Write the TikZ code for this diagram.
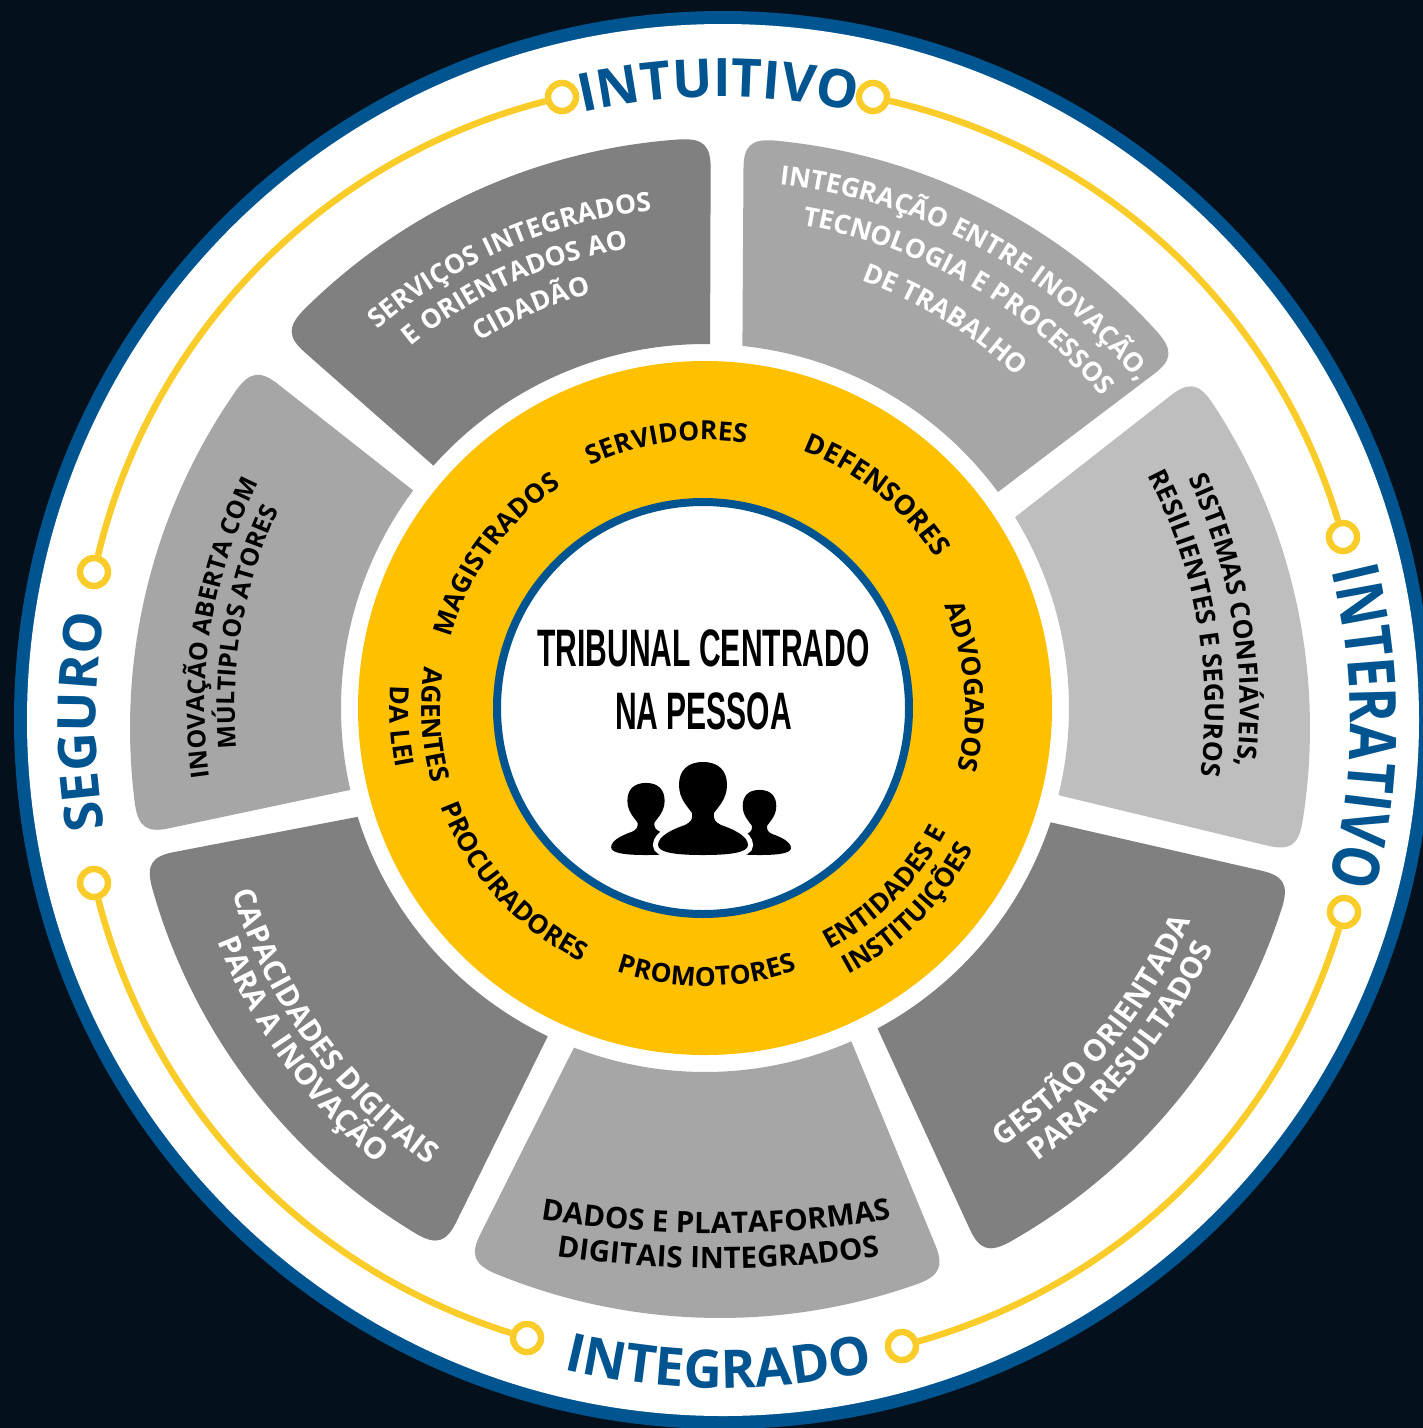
\documentclass[tikz,border=0pt]{standalone}
\usepackage{fontspec}
\setmainfont{Open Sans}
\newfontfamily\narrowfont[FakeStretch=0.81]{Open Sans}
\newfontfamily\titlefont[FakeStretch=0.57]{Liberation Sans}
\usetikzlibrary{calc,decorations.text}

\definecolor{navy}{HTML}{04101B}
\definecolor{ringblue}{HTML}{00548F}
\definecolor{hubyellow}{HTML}{FFC000}
\definecolor{lineyellow}{HTML}{F9CC2A}
\definecolor{darkgray}{HTML}{808080}
\definecolor{midgray}{HTML}{A6A6A6}
\definecolor{lightgray}{HTML}{BEBEBE}

\newcommand{\bigfont}{\color{ringblue}\bfseries\fontsize{30.2}{36}\selectfont}
\newcommand{\bignarrow}{\color{ringblue}\narrowfont\bfseries\fontsize{37}{44}\selectfont}
\newcommand{\hubfont}{\color{black}\bfseries\fontsize{15}{18}\selectfont}
\newcommand{\hubwide}{\color{black}\bfseries\fontsize{15.6}{18}\selectfont}
\newcommand{\whitefont}{\color{white}\bfseries\fontsize{15.1}{18}\selectfont}
\newcommand{\blackfont}{\color{black}\bfseries\fontsize{15}{18}\selectfont}
\newcommand{\whitebig}{\color{white}\bfseries\fontsize{17}{20}\selectfont}
\newcommand{\blackbig}{\color{black}\bfseries\fontsize{16.8}{20}\selectfont}
\newcommand{\blacksmall}{\color{black}\bfseries\fontsize{14.2}{17}\selectfont}

% text on an arc: centre, radius, middle angle, font, text
\newcommand{\cwtext}[5]{\path[decorate,decoration={text along path,text={|#4|#5},text align=center}]
  ($(#1)+(#3-70:#2)$) arc[start angle=#3-70,end angle=#3+70,radius=#2];}
\newcommand{\ccwtext}[5]{\path[decorate,decoration={text along path,text={|#4|#5},text align=center}]
  ($(#1)+(#3+70:#2)$) arc[start angle=#3+70,end angle=#3-70,radius=#2];}

% sector: colour, inner angle a, outer angle a, outer angle b, inner angle b
\newcommand{\sectorshape}[5]{
  \coordinate (ia) at ($(hub)+(#2:364)$);
  \coordinate (oa) at ($(rim)+(#3:590)$);
  \coordinate (ob) at ($(rim)+(#4:590)$);
  \coordinate (ib) at ($(hub)+(#5:364)$);
  \coordinate (a1) at ($(oa)!0.6cm!(ia)$);
  \coordinate (a2) at ($(rim)+(#3+2.9:590)$);
  \coordinate (b1) at ($(rim)+(#4-2.9:590)$);
  \coordinate (b2) at ($(ob)!0.6cm!(ib)$);
  \fill[#1] (ia) -- (a1) .. controls ($(a1)!0.75!(oa)$) and ($(a2)!0.75!(oa)$) .. (a2)
    arc[start angle=#3+2.9,end angle=#4-2.9,radius=590]
    .. controls ($(b1)!0.75!(ob)$) and ($(b2)!0.75!(ob)$) .. (b2) -- (ib)
    arc[start angle=#5,end angle=#2,radius=364] -- cycle;
}

\begin{document}
\begin{tikzpicture}[
  x=0.02cm, y=-0.02cm,
  knob/.style={circle, draw=lineyellow, fill=white, line width=0.13cm, minimum size=0.56cm, inner sep=0pt},
  track/.style={draw=lineyellow, line width=0.13cm, looseness=0.92},
  title/.style={align=center, font=\titlefont\bfseries\fontsize{30}{35.8}\selectfont},
  person/.pic={
    \path[pic actions] (0,-93) .. controls (-16,-93) and (-24,-84) .. (-24,-70)
      .. controls (-24,-56) and (-15,-48) .. (-11,-42)
      .. controls (-10,-36) and (-12,-33) .. (-18,-30)
      .. controls (-30,-26) and (-45,-19) .. (-45,-10)
      .. controls (-45,-2) and (-25,0) .. (0,0)
      .. controls (25,0) and (45,-2) .. (45,-10)
      .. controls (45,-19) and (30,-26) .. (18,-30)
      .. controls (12,-33) and (10,-36) .. (11,-42)
      .. controls (15,-48) and (24,-56) .. (24,-70)
      .. controls (24,-84) and (16,-93) .. (0,-93) -- cycle;
  }
]
\useasboundingbox (0,0) rectangle (1423,1428);
\fill[navy] (0,0) rectangle (1423,1428);

\coordinate (hub) at (705,708);
\coordinate (rim) at (720,728);
\coordinate (band) at (722,722);
\coordinate (integ) at (720,716);
\coordinate (capa) at (732,739);
\coordinate (dados1) at (716,133);
\coordinate (dados2) at (718,168);

% Rings
\fill[ringblue] (723,720) circle[radius=709];
\fill[white] (723,720) circle[radius=696];
\fill[hubyellow] (hub) circle[radius=347];
\draw[ringblue, fill=white, line width=0.16cm] (703,708) circle[radius=206];

% Sectors
\sectorshape{darkgray}{221.75}{222.1}{269.1}{270.8}
\sectorshape{midgray}{275.9}{272.3}{320.9}{323.6}
\sectorshape{lightgray}{328.4}{323.5}{372.2}{373.85}
\sectorshape{darkgray}{18.3}{14.67}{63.6}{61.7}
\sectorshape{midgray}{66.3}{67.4}{115.4}{111.1}
\sectorshape{darkgray}{115.6}{118}{167.3}{162.6}
\sectorshape{midgray}{167}{169.6}{217.9}{216.7}

% Yellow tracks
\node[knob] (k1) at (562,97) {};
\node[knob] (k2) at (873,97) {};
\node[knob] (k3) at (1343,537) {};
\node[knob] (k4) at (1344,912) {};
\node[knob] (k5) at (902,1346) {};
\node[knob] (k6) at (527,1338) {};
\node[knob] (k7) at (94,883) {};
\node[knob] (k8) at (94,572) {};
\draw[track] (k8) to[bend left=31] (k1);
\draw[track] (k2) to[bend left=30] (k3);
\draw[track] (k4) to[bend left=28.5] (k5);
\draw[track] (k6) to[bend left=29] (k7);

% Outer words
\cwtext{band}{625}{269.7}{\bigfont}{INTUITIVO}
\cwtext{band}{628}{0.4}{\bignarrow}{INTERATIVO}
\ccwtext{band}{666}{90.3}{\bigfont}{INTEGRADO}
\cwtext{band}{626}{180}{\bigfont}{SEGURO}

% Hub words
\cwtext{hub}{268}{261.8}{\hubfont}{SERVIDORES}
\cwtext{hub}{275}{308.9}{\hubwide}{DEFENSORES}
\cwtext{hub}{260}{355.3}{\hubfont}{ADVOGADOS}
\ccwtext{hub}{271}{45}{\hubfont}{ENTIDADES E}
\ccwtext{hub}{303}{44.7}{\hubfont}{INSTITUIÇÕES}
\ccwtext{hub}{278}{89.6}{\hubfont}{PROMOTORES}
\ccwtext{hub}{282}{137.7}{\hubfont}{PROCURADORES}
\ccwtext{hub}{283}{176.5}{\hubfont}{AGENTES}
\ccwtext{hub}{315}{176.5}{\hubfont}{DA LEI}
\cwtext{hub}{264}{216.3}{\hubfont}{MAGISTRADOS}

% Sector words
\cwtext{hub}{500}{246.5}{\whitefont}{SERVIÇOS INTEGRADOS}
\cwtext{hub}{466}{245.7}{\whitefont}{E ORIENTADOS AO}
\cwtext{hub}{430}{246.5}{\whitefont}{CIDADÃO}
\cwtext{integ}{535}{298.9}{\whitefont}{INTEGRAÇÃO ENTRE INOVAÇÃO,}
\cwtext{integ}{497.6}{299.8}{\whitefont}{TECNOLOGIA E PROCESSOS}
\cwtext{hub}{455}{301.7}{\whitefont}{DE TRABALHO}
\cwtext{hub}{535}{350.4}{\blackfont}{SISTEMAS CONFIÁVEIS,}
\cwtext{hub}{500}{350}{\blackfont}{RESILIENTES E SEGUROS}
\ccwtext{hub}{530}{39.8}{\whitebig}{GESTÃO ORIENTADA}
\ccwtext{hub}{562}{39.5}{\whitebig}{PARA RESULTADOS}
\ccwtext{dados1}{1100}{90}{\blackbig}{DADOS E PLATAFORMAS}
\ccwtext{dados2}{1100}{90}{\blackbig}{DIGITAIS INTEGRADOS}
\ccwtext{capa}{523}{144.2}{\whitebig}{CAPACIDADES DIGITAIS}
\ccwtext{capa}{553}{144.2}{\whitebig}{PARA A INOVAÇÃO}
\cwtext{hub}{500}{189.4}{\blacksmall}{INOVAÇÃO ABERTA COM}
\cwtext{hub}{470}{190}{\blacksmall}{MÚLTIPLOS ATORES}

% Centre
\node[title] (tribunal) at (703.5,680) {TRIBUNAL CENTRADO\\NA PESSOA};
\pic[fill=black, scale=0.775] at (646,855) {person};
\pic[fill=black, scale=0.7] at (759.5,855) {person};
\pic[draw=white, line width=0.2cm] at (703,855) {person};
\pic[fill=black] at (703,855) {person};

\end{tikzpicture}
\end{document}
